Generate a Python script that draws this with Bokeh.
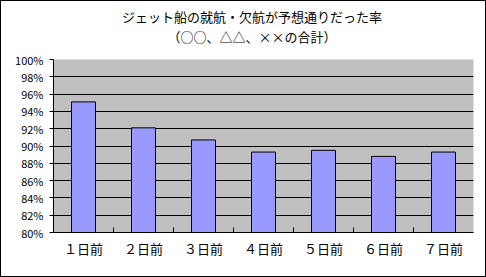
from bokeh.plotting import figure
from bokeh.models import FixedTicker, NumeralTickFormatter, Range1d, Div
from bokeh.layouts import column
from bokeh.embed import file_html
from bokeh.resources import INLINE

categories = ["１日前", "２日前", "３日前", "４日前", "５日前", "６日前", "７日前"]
rates = [0.951, 0.921, 0.907, 0.893, 0.895, 0.888, 0.893]
y_ticks = [0.80, 0.82, 0.84, 0.86, 0.88, 0.90, 0.92, 0.94, 0.96, 0.98, 1.00]
title_lines = ["ジェット船の就航・欠航が予想通りだった率", "（○○、△△、××の合計）"]

FONT = "Noto Sans CJK JP"

title = Div(text="<br>".join(title_lines), width=484, height=50,
            styles={"font-family": FONT, "font-size": "13px", "line-height": "20px",
                    "text-align": "center", "color": "black", "padding-top": "6px",
                    "padding-left": "18px", "box-sizing": "border-box", "margin": "0",
                    "background": "white"})

p = figure(width=484, height=225, output_backend="svg", toolbar_location=None,
           x_range=Range1d(-0.5, len(categories) - 0.5), y_range=Range1d(0.80, 1.00),
           min_border_left=52, min_border_right=12, min_border_top=8, min_border_bottom=44)
p.background_fill_color = "#C0C0C0"
p.border_fill_color = "white"
p.outline_line_color = None

xs = list(range(len(categories)))
p.vbar(x=xs, top=rates, bottom=0.80, width=0.4, fill_color="#9999FF", line_color="black", line_width=1)

# x axis
p.xgrid.visible = False
p.xaxis.ticker = FixedTicker(ticks=xs, minor_ticks=[i + 0.5 for i in xs[:-1]])
p.xaxis.major_label_overrides = {i: c for i, c in enumerate(categories)}
p.xaxis.major_tick_line_color = None
p.xaxis.minor_tick_in = 5
p.xaxis.minor_tick_out = 0
p.xaxis.minor_tick_line_color = "black"
p.xaxis.axis_line_color = "black"
p.xaxis.major_label_text_font = FONT
p.xaxis.major_label_text_font_size = "13px"
p.xaxis.major_label_text_color = "black"
p.xaxis.major_label_standoff = 0

# y axis
p.yaxis.ticker = FixedTicker(ticks=y_ticks, minor_ticks=[])
p.yaxis.formatter = NumeralTickFormatter(format="0%")
p.yaxis.major_tick_in = 0
p.yaxis.major_tick_out = 4
p.yaxis.major_tick_line_color = "black"
p.yaxis.axis_line_color = "black"
p.yaxis.major_label_text_font = FONT
p.yaxis.major_label_text_font_size = "11px"
p.yaxis.major_label_text_color = "black"
p.yaxis.major_label_standoff = 6
p.ygrid.ticker = FixedTicker(ticks=y_ticks)
p.ygrid.grid_line_color = "black"
p.ygrid.grid_line_width = 1

layout = column(title, p, spacing=0, styles={"border": "1px solid black", "background": "white"})

open("out.html", "w").write(file_html(layout, INLINE))
